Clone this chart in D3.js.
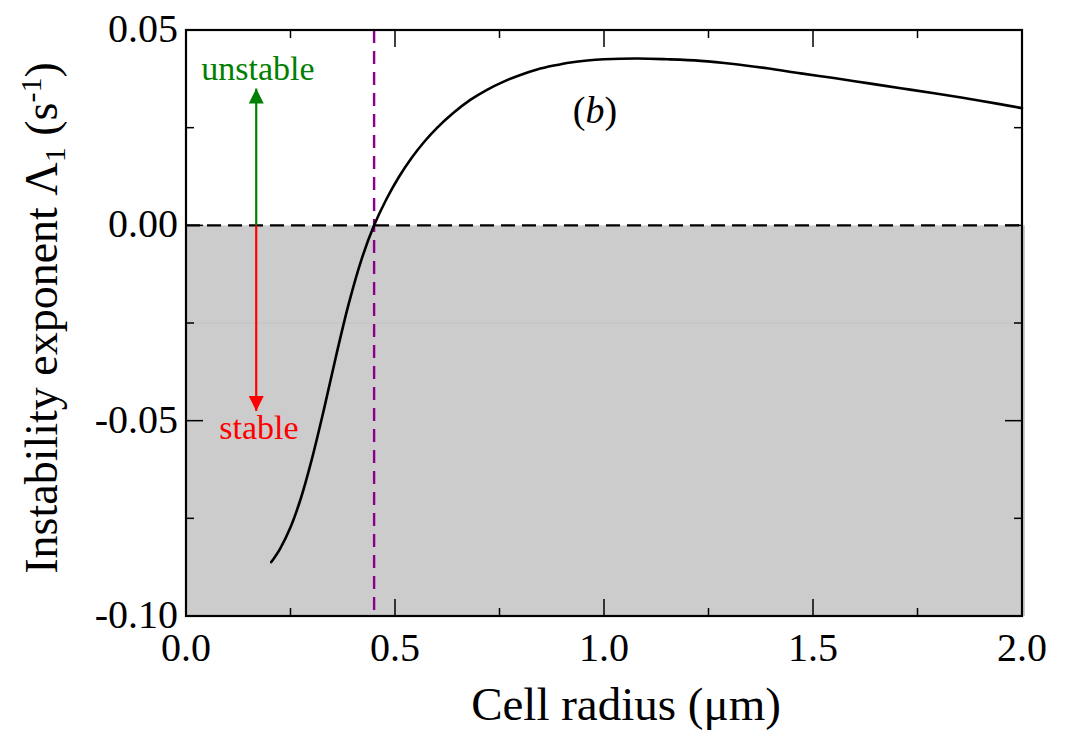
<!DOCTYPE html>
<html><head><meta charset="utf-8">
<script src="https://cdn.jsdelivr.net/npm/d3@7"></script>
<style>body{margin:0;background:#fff}svg{display:block}</style>
</head><body>
<svg id="c" width="1077" height="730"></svg>
<script>
// Data
const radius = [0.204,0.225,0.250,0.275,0.300,0.330,0.360,0.390,0.420,0.450,0.480,0.510,0.540,0.570,0.600,0.640,0.680,0.720,0.760,0.800,0.840,0.880,0.920,0.960,1.000,1.080,1.151,1.231,1.310,1.390,1.471,1.550,1.630,1.710,1.790,1.900,2.000];
const lambda1 = [-0.0862,-0.0828,-0.0773,-0.0698,-0.0603,-0.0471,-0.0330,-0.0198,-0.0087,0.0000,0.0068,0.0125,0.0173,0.0214,0.0249,0.0288,0.0321,0.0347,0.0368,0.0385,0.0399,0.0409,0.0417,0.0422,0.0425,0.0427,0.0425,0.0421,0.0413,0.0402,0.0389,0.0377,0.0364,0.0351,0.0338,0.0319,0.0300];
const xTicks = [0.0,0.5,1.0,1.5,2.0];
const xMinor = [0.25,0.75,1.25,1.75];
const yTicks = [0.05,0.00,-0.05,-0.10];
const yMinor = [0.025,-0.025,-0.075];
const criticalRadius = [0.45];
const arrowX = [0.168];
const arrowEnds = [0.035,-0.0475];

const W=1077,H=730, m={l:186,t:30,r:55,b:114};
const svg=d3.select("#c");
const x=d3.scaleLinear().domain([0,2]).range([m.l,W-m.r]);
const y=d3.scaleLinear().domain([-0.10,0.05]).range([H-m.b,m.t]);
const font="Liberation Serif, Times New Roman, serif";

const defs=svg.append("defs");
[["ag","#008000"],["ar","#ff0000"]].forEach(([id,c])=>{
  defs.append("marker").attr("id",id).attr("viewBox","0 0 10 10").attr("refX",10).attr("refY",5)
   .attr("markerUnits","userSpaceOnUse").attr("markerWidth",24).attr("markerHeight",15).attr("orient","auto")
   .append("path").attr("d","M0,0 L10,5 L0,10 Z").attr("fill",c);
});

// stable region
svg.append("rect").attr("x",x(0)).attr("y",y(0)).attr("width",x(2)-x(0)+3).attr("height",y(-0.10)-y(0)).attr("fill","#cccccc");
svg.append("line").attr("x1",x(0)).attr("x2",x(2)).attr("y1",y(-0.025)).attr("y2",y(-0.025)).attr("stroke","#c2c2c2").attr("stroke-width",1);

// zero dashed line
svg.append("line").attr("x1",x(0)).attr("x2",x(2)).attr("y1",y(0)).attr("y2",y(0))
  .attr("stroke","#000").attr("stroke-width",2.4).attr("stroke-dasharray","14,7");

// critical radius
svg.selectAll(".crit").data(criticalRadius).enter().append("line")
  .attr("x1",d=>x(d)).attr("x2",d=>x(d)).attr("y1",y(0.05)).attr("y2",y(-0.10))
  .attr("stroke","#8b008b").attr("stroke-width",2.4).attr("stroke-dasharray","13,8");

// arrows
svg.append("line").attr("x1",x(arrowX[0])).attr("x2",x(arrowX[0])).attr("y1",y(0)).attr("y2",y(arrowEnds[0]))
  .attr("stroke","#008000").attr("stroke-width",2.2).attr("marker-end","url(#ag)");
svg.append("line").attr("x1",x(arrowX[0])).attr("x2",x(arrowX[0])).attr("y1",y(0)).attr("y2",y(arrowEnds[1]))
  .attr("stroke","#ff0000").attr("stroke-width",2.2).attr("marker-end","url(#ar)");
svg.append("text").attr("x",258).attr("y",80).attr("text-anchor","middle")
  .attr("font-family",font).attr("font-size",34).attr("fill","#008000").text("unstable");
svg.append("text").attr("x",259).attr("y",439).attr("text-anchor","middle")
  .attr("font-family",font).attr("font-size",34).attr("fill","#ff0000").text("stable");

// curve
const pts=radius.map((r,i)=>[r,lambda1[i]]);
svg.append("path").datum(pts).attr("fill","none").attr("stroke","#000").attr("stroke-width",2.6)
  .attr("stroke-linecap","round")
  .attr("d",d3.line().x(d=>x(d[0])).y(d=>y(d[1])).curve(d3.curveCatmullRom.alpha(0.5)));

// frame
svg.append("rect").attr("x",x(0)).attr("y",y(0.05)).attr("width",x(2)-x(0)).attr("height",y(-0.10)-y(0.05))
  .attr("fill","none").attr("stroke","#000").attr("stroke-width",2.2);

// ticks (inward, all four sides)
const ax=svg.append("g").attr("stroke","#000").attr("stroke-width",1.5);
xTicks.forEach(v=>{ ax.append("line").attr("x1",x(v)).attr("x2",x(v)).attr("y1",y(-0.10)).attr("y2",y(-0.10)-17);
  ax.append("line").attr("x1",x(v)).attr("x2",x(v)).attr("y1",y(0.05)).attr("y2",y(0.05)+17);});
xMinor.forEach(v=>{ ax.append("line").attr("x1",x(v)).attr("x2",x(v)).attr("y1",y(-0.10)).attr("y2",y(-0.10)-8);
  ax.append("line").attr("x1",x(v)).attr("x2",x(v)).attr("y1",y(0.05)).attr("y2",y(0.05)+8);});
yTicks.forEach(v=>{ ax.append("line").attr("y1",y(v)).attr("y2",y(v)).attr("x1",x(0)).attr("x2",x(0)+17);
  ax.append("line").attr("y1",y(v)).attr("y2",y(v)).attr("x1",x(2)).attr("x2",x(2)-17);});
yMinor.forEach(v=>{ ax.append("line").attr("y1",y(v)).attr("y2",y(v)).attr("x1",x(0)).attr("x2",x(0)+8);
  ax.append("line").attr("y1",y(v)).attr("y2",y(v)).attr("x1",x(2)).attr("x2",x(2)-8);});

// tick labels
svg.selectAll(".xl").data(xTicks).enter().append("text").attr("x",d=>x(d)).attr("y",661)
  .attr("text-anchor","middle").attr("font-family",font).attr("font-size",40).text(d=>d.toFixed(1));
svg.selectAll(".yl").data(yTicks).enter().append("text").attr("x",178).attr("y",d=>y(d)+12)
  .attr("text-anchor","end").attr("font-family",font).attr("font-size",40).text(d=>d.toFixed(2));

// axis titles
svg.append("text").attr("x",626).attr("y",720).attr("text-anchor","middle")
  .attr("font-family",font).attr("font-size",47).text("Cell radius (μm)");
const yt=svg.append("text").attr("transform","translate(57,318) rotate(-90)")
  .attr("text-anchor","middle").attr("font-family",font).attr("font-size",46);
yt.append("tspan").text("Instability exponent Λ");
yt.append("tspan").attr("font-size",30).attr("dy",8).text("1");
yt.append("tspan").attr("dy",-8).text(" (s");
yt.append("tspan").attr("font-size",30).attr("dy",-16).text("-1");
yt.append("tspan").attr("dy",16).text(")");

// panel label
const pl=svg.append("text").attr("x",595).attr("y",123).attr("text-anchor","middle").attr("font-family",font).attr("font-size",38);
pl.append("tspan").text("(");
pl.append("tspan").attr("font-style","italic").text("b");
pl.append("tspan").text(")");
</script>
</body></html>
